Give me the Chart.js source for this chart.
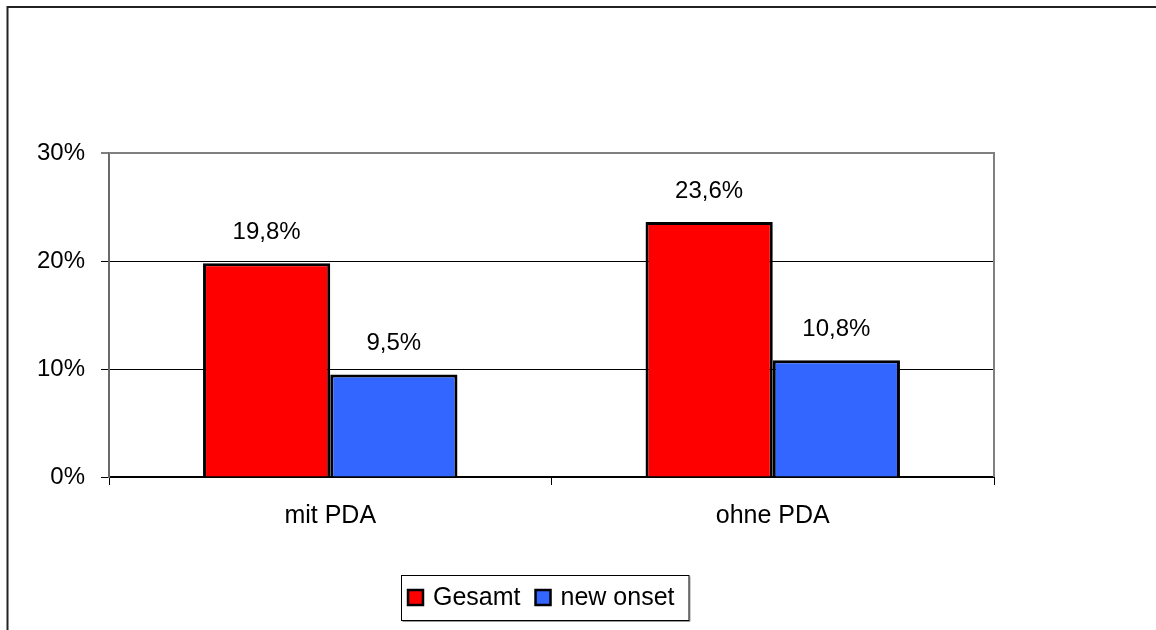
<!DOCTYPE html>
<html>
<head>
<meta charset="utf-8">
<title>PDA</title>
<script src="https://cdn.jsdelivr.net/npm/chart.js@4/dist/chart.umd.min.js"></script>
<style>
  html, body { margin: 0; padding: 0; background: #fff; }
  canvas { display: block; }
</style>
</head>
<body>
<canvas id="c" width="1156" height="630"></canvas>
<script>
// Categories, series and axis ticks
const categories = ['mit PDA', 'ohne PDA'];
const seriesNames = ['Gesamt', 'new onset'];
const gesamt = [19.8, 23.6];
const newOnset = [9.5, 10.8];
const yTicks = [0, 10, 20, 30];

const FONT = '"Liberation Sans", Arial, Helvetica, sans-serif';
const fmt = v => v.toFixed(1).replace('.', ',') + '%';

// Outer frame (top and left edges of the chart window)
const framePlugin = {
  id: 'frame',
  beforeDraw(chart) {
    const c = chart.ctx;
    c.save();
    c.fillStyle = '#fff';
    c.fillRect(0, 0, chart.width, chart.height);
    c.strokeStyle = '#222';
    c.lineWidth = 2;
    c.beginPath();
    c.moveTo(7.5, chart.height);
    c.lineTo(7.5, 7);
    c.lineTo(chart.width, 7);
    c.stroke();
    c.restore();
  }
};

// Grey plot border on the top and right sides
const plotBorderPlugin = {
  id: 'plotBorder',
  afterDraw(chart) {
    const a = chart.chartArea;
    const c = chart.ctx;
    c.save();
    c.strokeStyle = '#808080';
    c.lineWidth = 2;
    c.beginPath();
    c.moveTo(a.left, a.top);
    c.lineTo(a.right, a.top);
    c.lineTo(a.right, a.bottom);
    c.stroke();
    // tick mark below the right end of the category axis
    c.strokeStyle = '#000';
    c.lineWidth = 1;
    c.beginPath();
    c.moveTo(a.right + 0.5, a.bottom);
    c.lineTo(a.right + 0.5, a.bottom + 8);
    c.stroke();
    c.restore();
  }
};

// Value labels above each bar
const valueLabelPlugin = {
  id: 'valueLabels',
  afterDatasetsDraw(chart) {
    const c = chart.ctx;
    c.save();
    c.font = '24px ' + FONT;
    c.fillStyle = '#000';
    c.textAlign = 'center';
    c.textBaseline = 'middle';
    chart.data.datasets.forEach((ds, di) => {
      chart.getDatasetMeta(di).data.forEach((bar, i) => {
        c.fillText(fmt(ds.data[i]), bar.x, bar.y - 31);
      });
    });
    c.restore();
  }
};

// Boxed legend below the plot
const boxLegendPlugin = {
  id: 'boxLegend',
  afterDraw(chart) {
    const c = chart.ctx;
    const ds = chart.data.datasets;
    c.save();
    c.font = '25px ' + FONT;
    const sq = 15, padL = 7, gapSq = 10, gapItem = 15, padR = 14;
    let w = padL;
    ds.forEach((d, i) => {
      w += sq + gapSq + c.measureText(d.label).width;
      if (i < ds.length - 1) w += gapItem;
    });
    w += padR;
    const left = 401, top = 575, h = 45;
    // shadow then box
    c.strokeStyle = '#9a9a9a';
    c.lineWidth = 1;
    c.beginPath();
    c.moveTo(left + 1.5, top + h + 1.5);
    c.lineTo(left + w + 1.5, top + h + 1.5);
    c.lineTo(left + w + 1.5, top + 1.5);
    c.stroke();
    c.strokeStyle = '#000';
    c.strokeRect(left + 0.5, top + 0.5, w, h);
    let x = left + padL;
    const cy = top + h / 2;
    c.textBaseline = 'middle';
    c.textAlign = 'left';
    ds.forEach((d, i) => {
      c.fillStyle = d.backgroundColor;
      c.fillRect(x, cy - sq / 2, sq, sq);
      c.strokeStyle = '#000';
      c.lineWidth = 2.5;
      c.strokeRect(x, cy - sq / 2, sq, sq);
      x += sq + gapSq;
      c.fillStyle = '#000';
      c.fillText(d.label, x, cy + 1);
      x += c.measureText(d.label).width + gapItem;
    });
    c.restore();
  }
};

new Chart(document.getElementById('c'), {
  type: 'bar',
  data: {
    labels: categories,
    datasets: [
      { label: seriesNames[0], data: gesamt, backgroundColor: '#FF0000',
        borderColor: '#000', borderWidth: 3 },
      { label: seriesNames[1], data: newOnset, backgroundColor: '#3366FF',
        borderColor: '#000', borderWidth: 3 }
    ]
  },
  options: {
    responsive: false,
    animation: false,
    devicePixelRatio: 1,
    layout: { padding: { left: 0, top: 153, right: 162, bottom: 0 } },
    datasets: { bar: { categoryPercentage: 0.575, barPercentage: 1.0 } },
    plugins: {
      legend: { display: false },
      tooltip: { enabled: false }
    },
    scales: {
      x: {
        afterFit(s) { s.height = 153; },
        grid: {
          offset: true,
          drawOnChartArea: false,
          drawTicks: true,
          tickLength: 8,
          color: '#000',
          lineWidth: 1
        },
        border: { color: '#000', width: 2 },
        ticks: {
          color: '#000',
          padding: 16,
          font: { family: FONT, size: 25 }
        }
      },
      y: {
        min: yTicks[0],
        max: yTicks[yTicks.length - 1],
        afterFit(s) { s.width = 109; },
        afterBuildTicks(s) { s.ticks = yTicks.map(v => ({ value: v })); },
        grid: {
          color: ctx => (ctx.tick && ctx.tick.value === 30 ? '#808080' : '#000'),
          lineWidth: ctx => (ctx.tick && ctx.tick.value === 30 ? 2 : 1),
          tickLength: 8
        },
        border: { color: '#6a6a6a', width: 2 },
        ticks: {
          color: '#000',
          padding: 16,
          font: { family: FONT, size: 24 },
          callback: v => v + '%'
        }
      }
    }
  },
  plugins: [framePlugin, plotBorderPlugin, valueLabelPlugin, boxLegendPlugin]
});
</script>
</body>
</html>
